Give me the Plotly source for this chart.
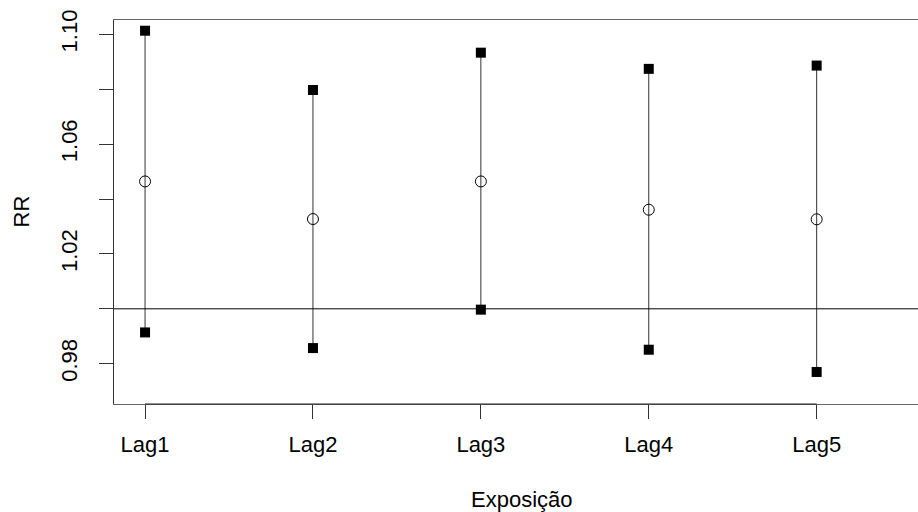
import plotly.graph_objects as go

# Data
categories = ["Lag1", "Lag2", "Lag3", "Lag4", "Lag5"]
x_pos = [1, 2, 3, 4, 5]
rr = [1.0464, 1.0327, 1.0464, 1.0361, 1.0326]
upper = [1.1013, 1.0797, 1.0933, 1.0874, 1.0886]
lower = [0.9914, 0.9857, 0.9997, 0.9851, 0.9770]
ref_value = 1.0
y_ticks = [0.98, 1.00, 1.02, 1.04, 1.06, 1.08, 1.10]
y_ticklabels = ["0.98", "", "1.02", "", "1.06", "", "1.10"]

FONT = "Liberation Sans, Arial, Helvetica, sans-serif"
FS = 22

# vertical interval segments
seg_x, seg_y = [], []
for xi, lo, hi in zip(x_pos, lower, upper):
    seg_x += [xi, xi, None]
    seg_y += [lo, hi, None]

fig = go.Figure()
fig.add_trace(go.Scatter(x=seg_x, y=seg_y, mode="lines",
                         line=dict(color="#333333", width=1),
                         hoverinfo="skip", showlegend=False))
fig.add_trace(go.Scatter(x=x_pos, y=upper, mode="markers",
                         marker=dict(symbol="square", size=10, color="black",
                                     line=dict(width=0)),
                         showlegend=False))
fig.add_trace(go.Scatter(x=x_pos, y=lower, mode="markers",
                         marker=dict(symbol="square", size=10, color="black",
                                     line=dict(width=0)),
                         showlegend=False))
fig.add_trace(go.Scatter(x=x_pos, y=rr, mode="markers",
                         marker=dict(symbol="circle-open", size=11, color="black",
                                     line=dict(width=1, color="black")),
                         showlegend=False))

# reference line at RR = 1
fig.add_shape(type="line", xref="paper", x0=0, x1=1, yref="y",
              y0=ref_value, y1=ref_value, line=dict(color="black", width=1))
# axis line from first to last tick (darker segment of bottom box)
fig.add_shape(type="line", xref="x", x0=x_pos[0], x1=x_pos[-1], yref="paper",
              y0=0, y1=0, line=dict(color="#222222", width=1.2))

x_min = 0.815
x_max = x_min + (918 - 114) / 167.9

fig.update_layout(
    width=918, height=512,
    margin=dict(l=114, r=0, t=20, b=108),
    paper_bgcolor="white", plot_bgcolor="white",
    font=dict(family=FONT, size=FS, color="black"),
    xaxis=dict(range=[x_min, x_max], tickvals=x_pos, ticktext=categories,
               showgrid=False, zeroline=False,
               showline=True, linecolor="#666666", linewidth=1, mirror=True,
               ticks="outside", ticklen=14, tickcolor="#333333", tickwidth=1,
               ticklabelstandoff=7,
               tickfont=dict(family=FONT, size=FS, color="black")),
    yaxis=dict(range=[0.96533, 1.1052], tickvals=y_ticks, ticktext=y_ticklabels,
               showgrid=False, zeroline=False,
               showline=True, linecolor="#333333", linewidth=1,
               ticks="outside", ticklen=14, tickcolor="#333333", tickwidth=1,
               tickangle=-90, ticklabelstandoff=13,
               tickfont=dict(family=FONT, size=FS, color="black")),
    annotations=[
        dict(text="Exposição", xref="paper", yref="paper",
             x=(522 - 114) / 804, y=-(500 - 404.3) / 384.3,
             xanchor="center", yanchor="middle", showarrow=False,
             font=dict(family=FONT, size=FS, color="black")),
        dict(text="RR", xref="paper", yref="paper",
             x=-(114 - 20.5) / 804, y=0.5, textangle=-90,
             xanchor="center", yanchor="middle", showarrow=False,
             font=dict(family=FONT, size=FS, color="black")),
    ],
)

fig.write_html("out.html")
